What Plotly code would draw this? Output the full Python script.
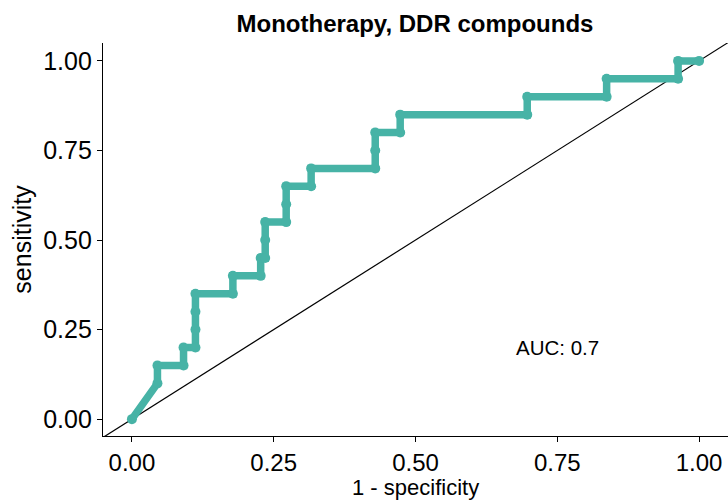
import plotly.graph_objects as go

# ROC curve vertices (1 - specificity, sensitivity)
fpr = [0.0, 0.045, 0.045, 0.091, 0.091, 0.112, 0.112, 0.112, 0.112, 0.178, 0.178,
       0.227, 0.227, 0.235, 0.235, 0.235, 0.272, 0.272, 0.272, 0.316, 0.316,
       0.429, 0.429, 0.429, 0.473, 0.473, 0.697, 0.697, 0.837, 0.837, 0.963, 0.963, 1.0]
tpr = [0.0, 0.10, 0.15, 0.15, 0.20, 0.20, 0.25, 0.30, 0.35, 0.35, 0.40,
       0.40, 0.45, 0.45, 0.50, 0.55, 0.55, 0.60, 0.65, 0.65, 0.70,
       0.70, 0.75, 0.80, 0.80, 0.85, 0.85, 0.90, 0.90, 0.95, 0.95, 1.00, 1.00]
ref_line = [-0.06, 1.06]
tick_vals = [0.0, 0.25, 0.5, 0.75, 1.0]
tick_text = ["0.00", "0.25", "0.50", "0.75", "1.00"]
auc_label = "AUC: 0.7"
title = "Monotherapy, DDR compounds"
x_title = "1 - specificity"
y_title = "sensitivity"

teal = "#47B3A6"
font = "Liberation Sans, Arial, sans-serif"

fig = go.Figure()
fig.add_trace(go.Scatter(x=ref_line, y=ref_line, mode="lines",
                         line=dict(color="black", width=1.2), hoverinfo="skip",
                         showlegend=False))
fig.add_trace(go.Scatter(x=fpr, y=tpr, mode="lines+markers",
                         line=dict(color=teal, width=7.5),
                         marker=dict(color=teal, size=10), showlegend=False))
fig.add_annotation(x=0.75, y=0.2, text=auc_label, showarrow=False,
                   font=dict(family=font, size=20.5, color="black"))
fig.add_annotation(x=0.5, xref="paper", y=-0.1654, yref="paper", text=x_title,
                   showarrow=False, xanchor="center", yanchor="bottom", borderpad=0,
                   font=dict(family=font, size=22, color="black"))

axis_common = dict(showgrid=False, zeroline=False, showline=True, linecolor="black",
                   linewidth=1.2, ticks="outside", ticklen=5, tickcolor="black",
                   tickwidth=1, tickvals=tick_vals, ticktext=tick_text,
                   tickfont=dict(family=font, size=25, color="black"),
                   mirror=False)
fig.update_layout(
    width=728, height=502,
    margin=dict(l=103, r=0, t=43, b=66),
    paper_bgcolor="white", plot_bgcolor="white",
    title=dict(text="<b>" + title + "</b>", x=0.57, xanchor="center", y=0.952,
               yanchor="middle", font=dict(family=font, size=24, color="black")),
    xaxis=dict(range=[-0.051, 1.051], ticklabelstandoff=0, **axis_common),
    yaxis=dict(range=[-0.047, 1.05], title=dict(text=y_title, standoff=4,
               font=dict(family=font, size=25, color="black")), **axis_common),
)
fig.update_xaxes(tickfont=dict(size=24))
fig.write_html("out.html")
